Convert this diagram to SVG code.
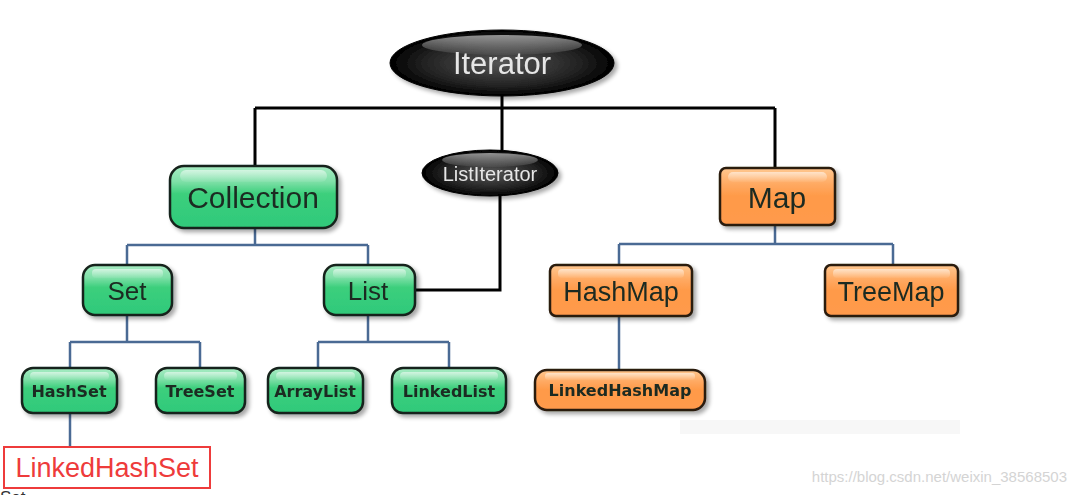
<svg xmlns="http://www.w3.org/2000/svg" width="1077" height="495" viewBox="0 0 1077 495">
<defs>
<linearGradient id="gG" x1="0" y1="0" x2="0" y2="1">
<stop offset="0" stop-color="#a8ecc4"/>
<stop offset="0.25" stop-color="#7fe0a8"/>
<stop offset="0.45" stop-color="#3ccf7c"/>
<stop offset="1" stop-color="#2fc97a"/>
</linearGradient>
<linearGradient id="oG" x1="0" y1="0" x2="0" y2="1">
<stop offset="0" stop-color="#ffc890"/>
<stop offset="0.3" stop-color="#ffa860"/>
<stop offset="0.5" stop-color="#ff9a48"/>
<stop offset="1" stop-color="#ff9a4c"/>
</linearGradient>
<radialGradient id="bG" cx="0.5" cy="0.5" r="0.5">
<stop offset="0" stop-color="#555"/>
<stop offset="0.7" stop-color="#222"/>
<stop offset="1" stop-color="#000"/>
</radialGradient>
<linearGradient id="hl" x1="0" y1="0" x2="0" y2="1">
<stop offset="0" stop-color="#fff" stop-opacity="0.55"/>
<stop offset="1" stop-color="#fff" stop-opacity="0.05"/>
</linearGradient>
<filter id="sh" x="-10%" y="-10%" width="130%" height="140%">
<feGaussianBlur in="SourceAlpha" stdDeviation="2"/>
<feOffset dx="3" dy="3"/>
<feComponentTransfer><feFuncA type="linear" slope="0.35"/></feComponentTransfer>
<feMerge><feMergeNode/><feMergeNode in="SourceGraphic"/></feMerge>
</filter>
</defs>
<style>
.g{fill:url(#gG);stroke:#16241b;stroke-width:2.5}
.o{fill:url(#oG);stroke:#2a1a10;stroke-width:2.5}
.e{fill:url(#bG);stroke:#000;stroke-width:1}
.t{font-family:"Liberation Sans",Arial,sans-serif;text-anchor:middle;fill:#1c2a20}
.tb{font-family:"DejaVu Sans",Verdana,sans-serif;font-weight:bold;text-anchor:middle;fill:#1c2a20}
.tw{font-family:"Liberation Sans",Arial,sans-serif;text-anchor:middle;fill:#e6e6e6}
.k{fill:none;stroke:#000;stroke-width:3}
.b{fill:none;stroke:#4a6a94;stroke-width:2.5}
</style>
<rect width="1077" height="495" fill="#fff"/>
<rect x="680" y="420" width="280" height="14" fill="#f7f7f7"/>
<g id="connectors">
<path class="k" d="M502 96V108M255 108H775M255 108V166M775 108V168M502 108V151"/>
<path class="k" d="M500 195V290H415"/>
<path class="b" d="M255 228V245M127 245H368M127 245V265M368 245V265"/>
<path class="b" d="M127 315V342M70 342H200M70 342V368M200 342V368"/>
<path class="b" d="M368 315V342M318 342H449M318 342V368M449 342V368"/>
<path class="b" d="M70 413V450"/>
<path class="b" d="M775 225V244M619 244H893M619 244V265M893 244V265"/>
<path class="b" d="M619 316V371"/>
</g>
<g id="Iterator" filter="url(#sh)">
<ellipse class="e" cx="502" cy="63" rx="112" ry="33"/>
<ellipse cx="502" cy="45" rx="80" ry="10" fill="url(#hl)"/>
<text class="tw" x="502" y="74" font-size="31">Iterator</text>
</g>
<g id="ListIterator" filter="url(#sh)">
<ellipse class="e" cx="490" cy="173" rx="68" ry="23"/>
<ellipse cx="490" cy="160" rx="48" ry="7" fill="url(#hl)"/>
<text class="tw" x="490" y="181" font-size="20">ListIterator</text>
</g>
<g id="Collection" filter="url(#sh)">
<rect class="g" x="170" y="166" width="167" height="62" rx="14"/>
<rect x="180" y="170" width="147" height="12" rx="6" fill="url(#hl)"/>
<text class="t" x="253" y="208" font-size="30">Collection</text>
</g>
<g id="Map" filter="url(#sh)">
<rect class="o" x="720" y="168" width="115" height="57" rx="6"/>
<rect x="728" y="172" width="99" height="10" rx="5" fill="url(#hl)"/>
<text class="t" x="777" y="208" font-size="30" fill="#2a1a10">Map</text>
</g>
<g id="Set" filter="url(#sh)">
<rect class="g" x="83" y="265" width="89" height="50" rx="12"/>
<rect x="92" y="269" width="71" height="9" rx="4" fill="url(#hl)"/>
<text class="t" x="127" y="300" font-size="26">Set</text>
</g>
<g id="List" filter="url(#sh)">
<rect class="g" x="324" y="265" width="91" height="50" rx="12"/>
<rect x="333" y="269" width="73" height="9" rx="4" fill="url(#hl)"/>
<text class="t" x="368" y="300" font-size="26">List</text>
</g>
<g id="HashSet" filter="url(#sh)">
<rect class="g" x="22" y="368" width="95" height="45" rx="11"/>
<rect x="30" y="372" width="79" height="8" rx="4" fill="url(#hl)"/>
<text class="tb" x="69" y="397" font-size="16">HashSet</text>
</g>
<g id="TreeSet" filter="url(#sh)">
<rect class="g" x="156" y="368" width="89" height="45" rx="11"/>
<rect x="164" y="372" width="73" height="8" rx="4" fill="url(#hl)"/>
<text class="tb" x="200" y="397" font-size="16">TreeSet</text>
</g>
<g id="ArrayList" filter="url(#sh)">
<rect class="g" x="268" y="368" width="95" height="45" rx="11"/>
<rect x="276" y="372" width="79" height="8" rx="4" fill="url(#hl)"/>
<text class="tb" x="315" y="397" font-size="16">ArrayList</text>
</g>
<g id="LinkedList" filter="url(#sh)">
<rect class="g" x="392" y="368" width="114" height="45" rx="11"/>
<rect x="400" y="372" width="98" height="8" rx="4" fill="url(#hl)"/>
<text class="tb" x="449" y="397" font-size="16">LinkedList</text>
</g>
<g id="HashMap" filter="url(#sh)">
<rect class="o" x="550" y="265" width="142" height="51" rx="6"/>
<rect x="558" y="269" width="126" height="9" rx="4" fill="url(#hl)"/>
<text class="t" x="621" y="301" font-size="27" fill="#2a1a10">HashMap</text>
</g>
<g id="TreeMap" filter="url(#sh)">
<rect class="o" x="825" y="265" width="133" height="51" rx="6"/>
<rect x="833" y="269" width="117" height="9" rx="4" fill="url(#hl)"/>
<text class="t" x="891" y="301" font-size="27" fill="#2a1a10">TreeMap</text>
</g>
<g id="LinkedHashMap" filter="url(#sh)">
<rect class="o" x="535" y="370" width="170" height="40" rx="12"/>
<rect x="545" y="373" width="150" height="7" rx="3" fill="url(#hl)"/>
<text class="tb" x="620" y="396" font-size="16" fill="#2a1a10">LinkedHashMap</text>
</g>
<g id="LinkedHashSet">
<rect x="4" y="447" width="206" height="41" fill="#fff" stroke="#ee3b3b" stroke-width="2"/>
<text x="107" y="477" font-family="'Liberation Sans',Arial,sans-serif" font-size="27" text-anchor="middle" fill="#ee3b3b">LinkedHashSet</text>
</g>
<text x="1067" y="482" font-family="'Liberation Sans',Arial,sans-serif" font-size="15" text-anchor="end" fill="#d4d4d4">https://blog.csdn.net/weixin_38568503</text>
<text x="0" y="503" font-family="'Liberation Sans',Arial,sans-serif" font-size="17" fill="#333">Set</text>
</svg>
